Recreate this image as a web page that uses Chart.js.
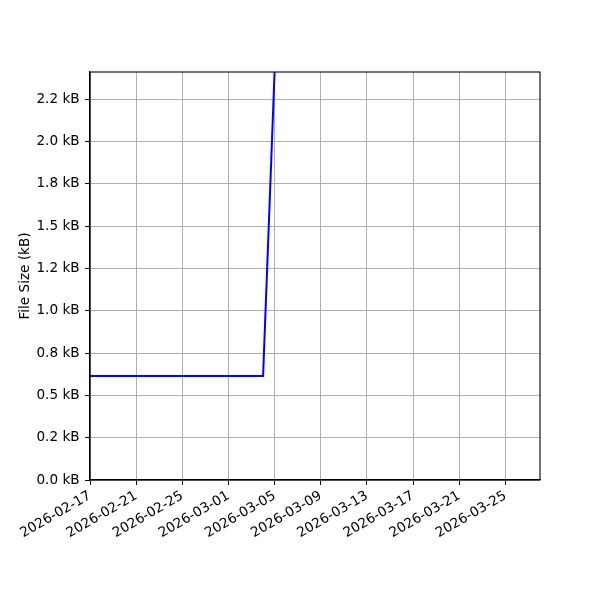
<!DOCTYPE html>
<html>
<head>
<meta charset="utf-8">
<script src="https://cdn.jsdelivr.net/npm/chart.js@4/dist/chart.umd.min.js"></script>
<style>
  html, body { margin: 0; padding: 0; background: #fff; }
  #wrap { width: 600px; height: 600px; }
</style>
</head>
<body>
<div id="wrap"><canvas id="sizeCanvas" width="600" height="600"></canvas></div>
<script>
// data
const dates = ["2026-02-17", "2026-02-21", "2026-02-25", "2026-03-01", "2026-03-04", "2026-03-05"];
const sizesBytes = [614, 614, 614, 614, 614, 2415];
const yTickLabels = ["0.0 kB", "0.2 kB", "0.5 kB", "0.8 kB", "1.0 kB", "1.2 kB", "1.5 kB", "1.8 kB", "2.0 kB", "2.2 kB"];
const startDate = "2026-02-17";
const dayCount = 39;

const DAY = 86400000;
const t0 = Date.parse(startDate + "T00:00:00Z");
const toDay = (s) => (Date.parse(s + "T00:00:00Z") - t0) / DAY;
const fromDay = (d) => new Date(t0 + d * DAY).toISOString().slice(0, 10);

const points = dates.map((d, i) => ({ x: toDay(d), y: sizesBytes[i] }));

// frame on all four sides
const frame = {
  id: "frame",
  afterDraw(chart) {
    const { ctx, chartArea: a } = chart;
    ctx.save();
    ctx.strokeStyle = "#000";
    ctx.lineWidth = 1.1;
    ctx.strokeRect(a.left, a.top, a.right - a.left, a.bottom - a.top);
    ctx.restore();
  },
};

const font = { family: "DejaVu Sans", size: 13.6 };

new Chart(document.getElementById("sizeCanvas"), {
  type: "line",
  data: {
    datasets: [{
      data: points,
      borderColor: "#0000ff",
      borderWidth: 2,
      pointRadius: 0,
      tension: 0,
      fill: false,
    }],
  },
  options: {
    responsive: false,
    animation: false,
    layout: { padding: { left: 0, top: 72, right: 60, bottom: 0 } },
    plugins: { legend: { display: false }, tooltip: { enabled: false } },
    scales: {
      x: {
        type: "linear",
        min: 0,
        max: dayCount,
        afterFit: (s) => { s.height = 120; },
        grid: { color: "#b0b0b0", lineWidth: 1, tickColor: "#000", tickLength: 4.9 },
        border: { color: "#000", width: 1.1 },
        ticks: {
          stepSize: 4,
          includeBounds: false,
          autoSkip: false,
          maxRotation: 30,
          minRotation: 30,
          padding: 3,
          color: "#000",
          font,
          callback: (v) => fromDay(v),
        },
      },
      y: {
        min: 0,
        max: 2410,
        afterFit: (s) => { s.width = 90; },
        grid: { color: "#b0b0b0", lineWidth: 1, tickColor: "#000", tickLength: 4.9 },
        border: { color: "#000", width: 1.1 },
        title: { display: true, text: "File Size (kB)", color: "#000", font, padding: { top: 17, bottom: 0 } },
        ticks: {
          stepSize: 250,
          includeBounds: false,
          padding: 5.5,
          color: "#000",
          font,
          callback: (v) => yTickLabels[Math.round(v / 250)],
        },
      },
    },
  },
  plugins: [frame],
});
</script>
</body>
</html>
